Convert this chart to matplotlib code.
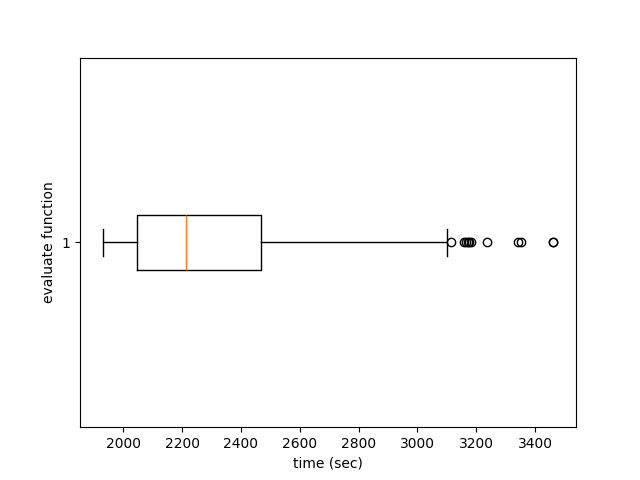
import matplotlib
matplotlib.use("Agg")
import matplotlib.pyplot as plt

# box statistics
whisker_low = 1930
q1 = 2048
median = 2215
q3 = 2470
whisker_high = 3100
fliers = [3115, 3158, 3164, 3170, 3176, 3182, 3236, 3340, 3353, 3460, 3462]
label = "1"

stats = [{
    "label": label,
    "whislo": whisker_low,
    "q1": q1,
    "med": median,
    "q3": q3,
    "whishi": whisker_high,
    "fliers": fliers,
}]

fig, ax = plt.subplots(figsize=(6.4, 4.8), dpi=100)
ax.bxp(stats, orientation="horizontal")
ax.set_xlabel("time (sec)")
ax.set_ylabel("evaluate function")
plt.savefig("out.png")
